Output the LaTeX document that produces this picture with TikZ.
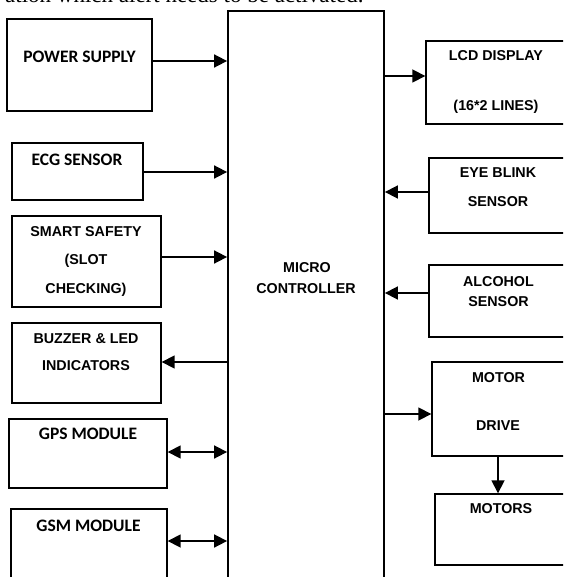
\documentclass[tikz,border=0pt]{standalone}
\usepackage{fontspec}
\usetikzlibrary{arrows.meta}
\newfontfamily\arialfam{Liberation Sans}
\newfontfamily\calfam{Carlito}
\newfontfamily\serfam{Liberation Serif}
\begin{document}
\begin{tikzpicture}[x=1pt,y=-1pt,
  box/.style={draw, line width=1.4pt, rectangle, inner sep=0pt},
  arr/.style={line width=1.7pt, -{Triangle[length=13pt,width=13pt]}},
  darr/.style={line width=1.7pt, {Triangle[length=13pt,width=13pt]}-{Triangle[length=13pt,width=13pt]}},
  lA/.style={anchor=base, inner sep=0pt, font=\arialfam\bfseries\fontsize{14.3pt}{16pt}\selectfont},
  lC/.style={anchor=base, inner sep=0pt, font=\calfam\bfseries\fontsize{17.5pt}{19pt}\selectfont}]
\useasboundingbox (0,0) rectangle (563,577);
\fill[white] (0,0) rectangle (563,577);
\clip (0,0) rectangle (563,577);
% cropped caption line at top
\node[anchor=base west, inner sep=0pt, font=\serfam\fontsize{23pt}{25pt}\selectfont] (cap) at (5,3) {ation which alert needs to be activated.};
% boxes
\node[box, minimum width=145pt, minimum height=92pt] (ps) at (79.5,65) {};
\node[box, minimum width=131pt, minimum height=57pt] (ecg) at (77.5,171.5) {};
\node[box, minimum width=149pt, minimum height=91pt] (ss) at (86.5,261.5) {};
\node[box, minimum width=149pt, minimum height=80pt] (bz) at (86.5,363) {};
\node[box, minimum width=158pt, minimum height=69pt] (gps) at (88,453.5) {};
\node[box, minimum width=156pt, minimum height=91pt] (gsm) at (89,554.5) {};
\node[box, line width=1.8pt, minimum width=156pt, minimum height=589pt] (mc) at (306,305.5) {};
\node[box, minimum width=144pt, minimum height=83pt] (lcd) at (498,82.5) {};
\node[box, minimum width=141pt, minimum height=75pt] (eye) at (499.5,195.5) {};
\node[box, minimum width=141pt, minimum height=72pt] (alc) at (499.5,301) {};
\node[box, minimum width=138pt, minimum height=94pt] (md) at (501,409) {};
\node[box, minimum width=135pt, minimum height=71pt] (mot) at (502.5,529.5) {};
% labels
\node[lC] (t1) at (79.5,62.6) {POWER SUPPLY};
\node[lC] (t2) at (77,165.6) {ECG SENSOR};
\node[lA] (t3) at (86,236) {SMART SAFETY};
\node[lA] (t4) at (86,264) {(SLOT};
\node[lA] (t5) at (86,293) {CHECKING)};
\node[lA] (t6) at (86,343) {BUZZER \& LED};
\node[lA] (t7) at (86,370) {INDICATORS};
\node[lC] (t8) at (88,439.6) {GPS MODULE};
\node[lC] (t9) at (88.5,531.6) {GSM MODULE};
\node[lA] (t10) at (307,272) {MICRO};
\node[lA] (t11) at (306,293.5) {CONTROLLER};
\node[lA] (t12) at (496,61) {LCD DISPLAY};
\node[lA] (t13) at (496,111) {(16*2 LINES)};
\node[lA] (t14) at (498,178) {EYE BLINK};
\node[lA] (t15) at (498,206) {SENSOR};
\node[lA] (t16) at (498.5,286) {ALCOHOL};
\node[lA] (t17) at (498.5,306) {SENSOR};
\node[lA] (t18) at (498.5,382) {MOTOR};
\node[lA] (t19) at (498,430) {DRIVE};
\node[lA] (t20) at (501,513) {MOTORS};
% connector rows
\coordinate (y1) at (0,61);
\coordinate (y2) at (0,172);
\coordinate (y3) at (0,257);
\coordinate (y4) at (0,362);
\coordinate (y5) at (0,452);
\coordinate (y6) at (0,541);
\coordinate (y7) at (0,76);
\coordinate (y8) at (0,192);
\coordinate (y9) at (0,293);
\coordinate (y10) at (0,414);
\coordinate (xm) at (498,0);
\draw[arr] (ps.east |- y1) -- (mc.west |- y1);
\draw[arr] (ecg.east |- y2) -- (mc.west |- y2);
\draw[arr] (ss.east |- y3) -- (mc.west |- y3);
\draw[arr] (mc.west |- y4) -- (bz.east |- y4);
\draw[darr] (gps.east |- y5) -- (mc.west |- y5);
\draw[darr] (gsm.east |- y6) -- (mc.west |- y6);
\draw[arr] (mc.east |- y7) -- (lcd.west |- y7);
\draw[arr] (eye.west |- y8) -- (mc.east |- y8);
\draw[arr] (alc.west |- y9) -- (mc.east |- y9);
\draw[arr] (mc.east |- y10) -- (md.west |- y10);
\draw[arr] (md.south -| xm) -- (mot.north -| xm);
\end{tikzpicture}
\end{document}
